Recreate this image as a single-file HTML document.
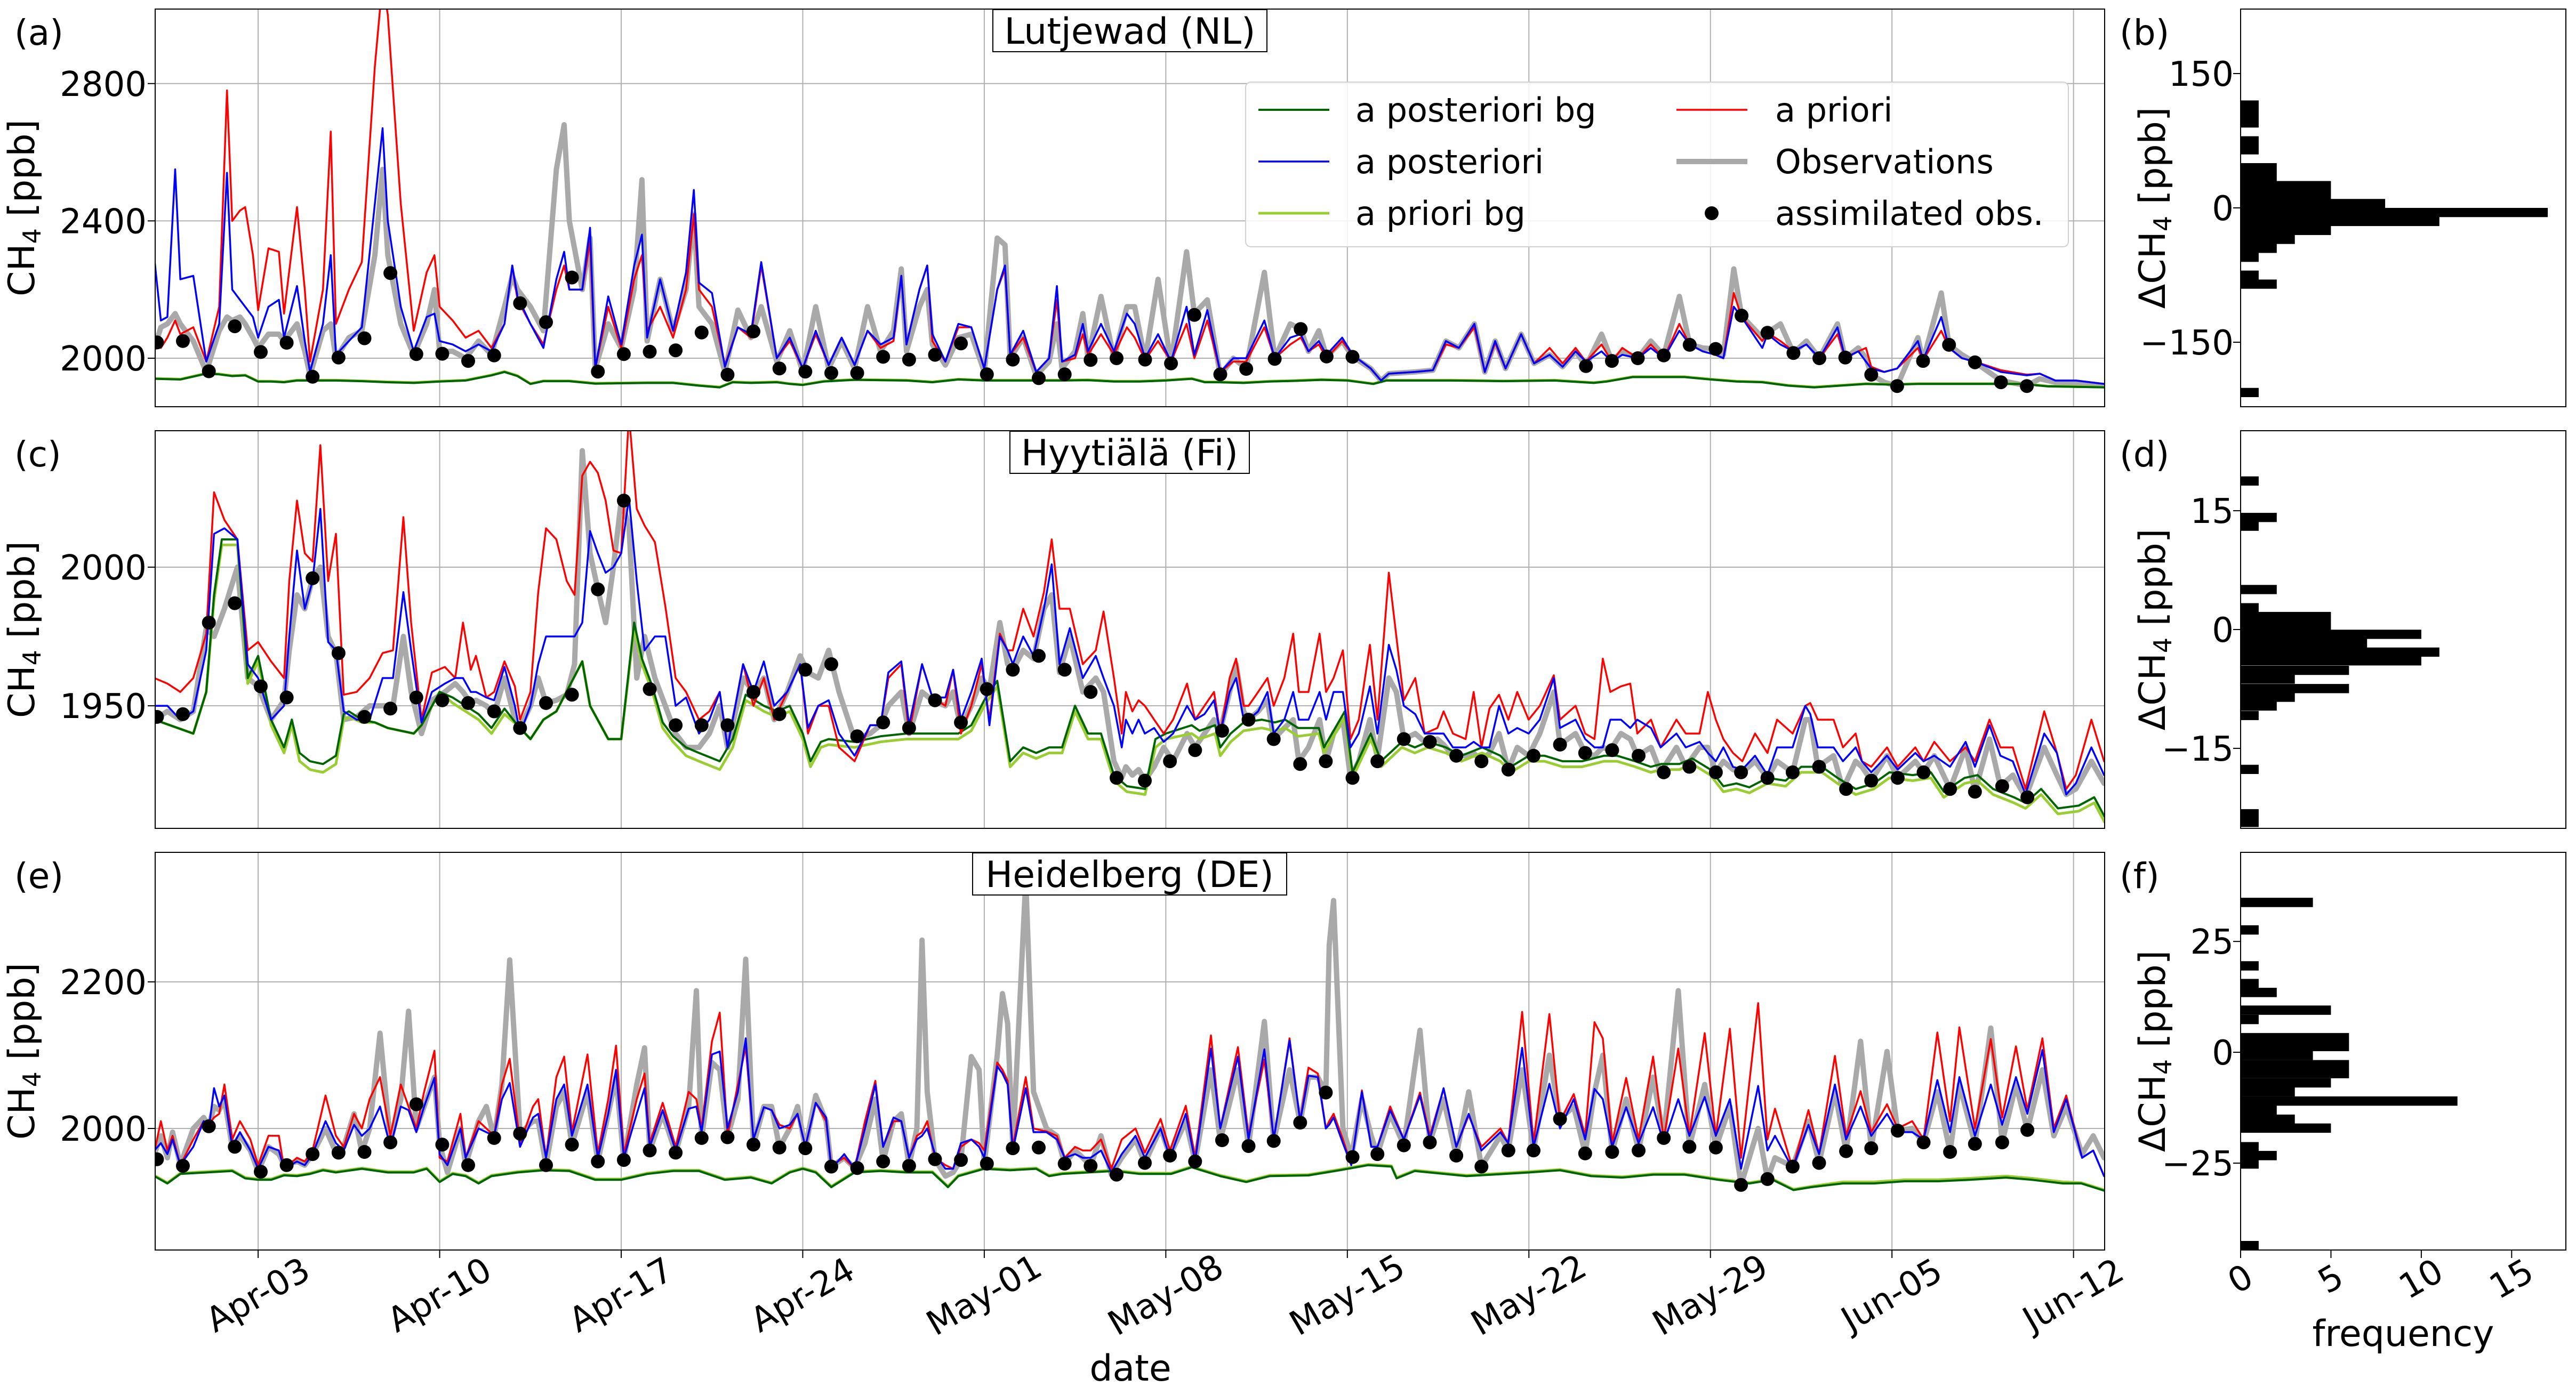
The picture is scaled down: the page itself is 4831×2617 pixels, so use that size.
<!DOCTYPE html>
<html><head><meta charset="utf-8"><title>CH4 time series and histograms</title>
<style>html,body{margin:0;padding:0;background:#fff;}svg{display:block;}</style>
</head><body>
<svg id="fig" xmlns="http://www.w3.org/2000/svg" width="4831" height="2617" viewBox="0 0 4831 2617" font-family="'DejaVu Sans','Liberation Sans',sans-serif">
<defs>
<clipPath id="clipA"><rect x="291" y="17" width="3656" height="746"/></clipPath>
<clipPath id="clipC"><rect x="291" y="808" width="3656" height="746"/></clipPath>
<clipPath id="clipE"><rect x="291" y="1599" width="3656" height="746"/></clipPath>
</defs>
<rect x="0" y="0" width="4831" height="2617" fill="#ffffff"/>
<g id="layer"></g>

<text x="27" y="84" font-size="66">(a)</text>
<text x="27" y="875" font-size="66">(c)</text>
<text x="27" y="1666" font-size="66">(e)</text>
<text x="3975" y="84" font-size="66">(b)</text>
<text x="3975" y="875" font-size="66">(d)</text>
<text x="3975" y="1666" font-size="66">(f)</text>

<text transform="translate(64,390) rotate(-90)" text-anchor="middle" font-size="68">CH<tspan font-size="46" dy="12">4</tspan><tspan dy="-12"> [ppb]</tspan></text>
<text transform="translate(64,1181) rotate(-90)" text-anchor="middle" font-size="68">CH<tspan font-size="46" dy="12">4</tspan><tspan dy="-12"> [ppb]</tspan></text>
<text transform="translate(64,1972) rotate(-90)" text-anchor="middle" font-size="68">CH<tspan font-size="46" dy="12">4</tspan><tspan dy="-12"> [ppb]</tspan></text>
<text transform="translate(4060,390) rotate(-90)" text-anchor="middle" font-size="68">ΔCH<tspan font-size="46" dy="12">4</tspan><tspan dy="-12"> [ppb]</tspan></text>
<text transform="translate(4060,1181) rotate(-90)" text-anchor="middle" font-size="68">ΔCH<tspan font-size="46" dy="12">4</tspan><tspan dy="-12"> [ppb]</tspan></text>
<text transform="translate(4060,1972) rotate(-90)" text-anchor="middle" font-size="68">ΔCH<tspan font-size="46" dy="12">4</tspan><tspan dy="-12"> [ppb]</tspan></text>

<text x="2120" y="2590" text-anchor="middle" font-size="68">date</text>
<text x="4507" y="2525" text-anchor="middle" font-size="68">frequency</text>
</svg>
<script>
const NS = 'http://www.w3.org/2000/svg';
// ---------- Panel (a) Lutjewad ----------
const tA = [0,0.25,0.5,0.8,1.0,1.5,2.0,2.5,2.8,3.0,3.3,3.5,3.8,4.0,4.4,4.8,5.0,5.5,5.8,6.0,6.5,6.8,7.0,7.5,8.0,8.5,8.8,9.0,9.5,10.0,10.5,10.8,11.0,11.5,12.0,12.5,13.0,13.5,13.8,14.0,14.5,15.0,15.5,15.8,16.0,16.5,16.8,17.0,17.5,18.0,18.5,18.8,19.0,19.5,20.0,20.5,20.8,21.0,21.5,22.0,22.5,23.0,23.4,24.0,24.5,25.0,25.5,26.0,26.5,27.0,27.5,28.0,28.5,28.8,29.0,29.5,29.8,30.0,30.5,31.0,31.5,32.0,32.5,32.8,33.0,33.5,34.0,34.5,34.8,35.0,35.5,35.8,36.0,36.5,37.0,37.5,37.8,38.2,38.7,39.2,39.8,40.1,40.6,41.1,41.6,42.1,42.8,43.2,43.8,44.2,44.5,44.9,45.2,45.8,46.2,46.9,47.3,47.6,48.6,49.3,49.8,50.3,50.9,51.3,51.7,52.1,52.7,53.2,53.8,54.3,54.8,55.2,55.8,56.2,56.6,57.2,57.7,58.2,58.8,59.2,59.7,60.2,60.5,60.9,61.2,62.0,62.2,62.7,63.2,63.7,64.2,64.9,65.2,65.7,66.0,66.2,66.7,67.2,68.0,68.2,68.9,69.2,69.7,70.2,71.2,72.2,72.7,73.3,74.1,75.2];
const priorA = [2040,2030,2060,2110,2070,2090,1990,2150,2780,2400, 2430,2440,2300,2140,2320,2310,2130,2440,2200,1990, 2200,2660,2100,2200,2280,2850,3100,3000,2450,2080, 2250,2300,2150,2110,2060,2080,2030,2100,2270,2170, 2100,2040,2200,2270,2200,2200,2340,1970,2150,2030, 2230,2300,2080,2150,2060,2200,2420,2200,2150,1980, 2090,2060,2270,2000,2050,1970,2070,1980,2060,1980, 2080,2030,2050,2240,2040,2200,2270,2050,1990,2090, 2090,1970,2200,2260,2010,2060,1960,2000,2170,1990, 2000,2070,2010,2070,2010,2090,2060,1995,2050,1990, 2100,2000,2110,1960,1990,1990,2090,2000,2040,2060, 2020,2040,2000,2050,2010,1970,1935,1955,1960,1965, 2040,2030,2090,1960,2045,1970,2070,1985,2030,1985, 2030,1990,2040,1990,2030,2000,2040,2000,2100,2040, 2020,2010,2000,2190,2120,2050,2074,2050,2020,2040, 2000,2070,2002,2020,2030,1975,1960,1970,2030,1995, 2080,2030,2000,1990,1965,1952,1955,1935,1935,1925];
const postA = [2290,2110,2120,2550,2230,2240,1990,2100,2540,2200, 2170,2150,2120,2060,2150,2170,2060,2210,2050,1960, 2100,2300,2010,2050,2090,2450,2670,2400,2150,2020, 2120,2130,2050,2040,2020,2040,2020,2100,2270,2180, 2100,2030,2230,2310,2200,2200,2380,1970,2180,2040, 2270,2360,2060,2230,2080,2250,2490,2220,2190,1975, 2090,2070,2280,2000,2060,1970,2080,1980,2060,1980, 2080,2040,2060,2240,2040,2200,2270,2070,1990,2100, 2090,1970,2200,2270,2010,2080,1960,2000,2210,1990, 2010,2100,2020,2100,2020,2130,2100,2000,2070,1990, 2150,2010,2140,1960,2000,2000,2110,2000,2060,2070, 2020,2050,2010,2060,2010,1970,1935,1955,1960,1965, 2050,2030,2100,1960,2050,1970,2070,1985,2010,1975, 2020,1990,2020,1990,2010,2000,2030,2000,2080,2040, 2020,2010,2000,2150,2120,2030,2070,2040,2020,2040, 2000,2090,2000,2020,1990,1970,1960,1970,2050,1995, 2120,2030,2000,1990,1960,1950,1955,1935,1935,1925];
const obsA = [2030,2090,2100,2130,2100,2050,1960,2080,2120,2110, 2120,2100,2060,2030,2070,2070,2050,2100,2020,1950, 2080,2100,2000,2060,2080,2300,2550,2300,2100,2010, 2100,2200,2020,2020,2000,2050,2010,2150,2240,2200, 2150,2080,2550,2680,2400,2200,2350,1970,2100,2030, 2200,2520,2050,2230,2080,2200,2420,2150,2100,1960, 2140,2060,2150,1990,2080,1960,2150,1970,2050,1970, 2150,2020,2080,2260,2020,2150,2200,2040,1980,2060, 2070,1960,2350,2330,2000,2060,1950,1990,2100,1970, 2020,2130,2000,2180,2000,2150,2150,1995,2230,1985, 2310,2130,2170,1950,2000,1970,2250,2000,2100,2085, 2020,2080,2005,2050,2005,1970,1935,1955,1960,1965, 2050,2030,2100,1960,2050,1970,2070,1985,2010,1975, 2020,1977,2070,1992,2020,2000,2050,2008,2180,2040, 2030,2027,2010,2260,2124,2060,2074,2100,2015,2050, 2000,2100,2000,2030,2000,1952,1930,1919,2060,1992, 2190,2039,2010,1988,1935,1920,1940,1930,1928,1920];
const bgtA = [0,1,2,2.5,3,3.5,4,4.5,5,5.5,6,7,8,9,10,11,12,13,13.5,14,14.5,15,16,17,18,19,20,21,21.8,22.3,23,24,24.5,25,25.8,26.5,27,28,29,30,31,32,33,34,35,36,37,38,39,40,40.5,41,42,43,44,45,46,47,47.5,48,50,52,54,55.5,56,57,59,60,61,62,63,64,65,66,67,68,70,72,73,75.2];
const bgA = [1940,1938,1955,1953,1948,1950,1932,1932,1930,1935,1935,1935,1933,1930,1928,1932,1935,1950,1960,1948,1925,1933,1933,1926,1927,1928,1928,1920,1915,1930,1928,1930,1925,1922,1932,1935,1937,1936,1935,1930,1938,1935,1935,1935,1935,1936,1932,1932,1935,1940,1930,1930,1928,1932,1934,1937,1935,1925,1935,1935,1935,1933,1935,1928,1932,1945,1945,1938,1932,1930,1920,1915,1920,1925,1923,1925,1925,1925,1918,1915];
const bgpA = [1941,1939,1956,1954,1949,1951,1933,1933,1931,1936,1936,1936,1934,1931,1929,1933,1936,1951,1961,1949,1926,1934,1934,1927,1928,1929,1929,1921,1916,1931,1929,1931,1926,1923,1933,1936,1938,1937,1936,1931,1939,1936,1936,1936,1936,1937,1933,1933,1936,1941,1931,1931,1929,1933,1935,1938,1936,1926,1936,1936,1936,1934,1936,1929,1933,1946,1946,1939,1933,1931,1921,1916,1921,1926,1924,1926,1926,1926,1919,1916];
const dotTA = [0.1,1.1,2.1,3.1,4.1,5.1,6.1,7.1,8.1,9.1,10.1,11.1,12.1,13.1,14.1,15.1,16.1,17.1,18.1,19.1,20.1,21.1,22.1,23.1,24.1,25.1,26.1,27.1,28.1,29.1,30.1,31.1,32.1,33.1,34.1,35.1,36.1,37.1,38.2,39.2,40.1,41.1,42.1,43.2,44.2,45.2,46.2,55.2,56.2,57.2,58.2,59.2,60.2,61.2,62.2,63.2,64.2,65.2,66.2,67.2,68.2,69.2,70.2,71.2,72.2];
const dotVA = [2046,2050,1962,2093,2018,2045,1946,2002,2058,2248,2012,2013,1992,2008,2160,2105,2235,1961,2012,2019,2023,2075,1952,2078,1970,1961,1957,1957,2004,1996,2010,2043,1953,1996,1942,1953,1995,2000,1996,1985,2126,1953,1969,1998,2085,2005,2004,1977,1992,2000,2008,2039,2027,2124,2074,2015,2000,2002,1952,1919,1992,2039,1988,1930,1919];

// ---------- Panel (c) Hyytiala ----------
const tC = [0,0.5,1.0,1.5,2.0,2.3,2.7,3.2,3.6,4.0, 4.5,5.0,5.2,5.5,5.8,6.1,6.4,6.7,7.0,7.3, 7.8,8.3,8.8,9.2,9.6,9.9,10.3,10.7,11.2,11.6, 11.9,12.2,12.4,12.8,13.1,13.5,13.9,14.1,14.5,14.8, 15.1,15.5,15.9,16.2,16.5,16.8,17.1,17.4,17.7,18.0, 18.3,18.6,18.9,19.3,19.7,20.1,20.5,21.0,21.4,21.8, 22.1,22.7,23.1,23.5,23.9,24.4,24.9,25.2,25.6,26.0, 26.4,27.0,27.6,28.0,28.3,28.8,29.1,29.6,30.0,30.5, 30.8,31.1,31.5,31.9,32.2,32.6,32.9,33.1,33.5,33.9, 34.3,34.6,34.9,35.3,35.8,36.3,36.6,37.0,37.3,37.46, 37.71,37.95,38.19,38.55,38.92,39.28,39.82,40.13,40.49,40.86, 41.1,41.46,41.71,42.0,42.19,42.56,42.92,43.16,43.57,43.91, 44.13,44.5,44.93,45.18,45.47,45.83,46.12,46.44,46.87,47.16, 47.6,47.89,48.18,48.62,48.98,49.47,49.71,50.07,50.56,50.87, 51.17,51.48,51.85,52.21,52.55,52.99,53.42,53.96,54.2,54.8, 55.17,55.53,55.85,56.14,56.55,56.91,57.18,57.71,58.08,58.69, 59.05,59.58,59.9,60.21,60.5,60.87,61.23,61.72,62.2,62.57, 63.17,63.66,63.85,64.14,64.75,65.11,65.6,65.84,66.2,66.81, 67.22,67.9,68.22,68.63,69.24,69.84,70.2,70.76,71.18,71.66, 72.15,72.87,73.36,73.72,74.09,74.69,75.18];
const priorC = [1960,1958,1955,1960,1976,2027,2017,2010,1970,1973, 1966,1960,1995,2024,2005,2002,2044,1995,2012,1954, 1955,1960,1969,1970,2018,1980,1945,1962,1964,1960, 1980,1963,1968,1953,1955,1966,1957,1945,1955,1991, 2014,2010,1995,1990,2033,2038,2034,2024,2006,2005, 2055,2021,2015,2009,1986,1960,1955,1945,1948,1955, 1935,1965,1950,1960,1945,1955,1965,1940,1950,1950, 1935,1930,1943,1943,1960,1965,1940,1965,1953,1950, 1963,1940,1950,1965,1945,1976,1970,1970,1985,1975, 1991,2010,1985,1985,1965,1970,1984,1960,1940,1955, 1948,1952,1950,1945,1940,1945,1958,1945,1950,1955, 1940,1960,1967,1950,1950,1955,1960,1950,1960,1976, 1955,1955,1976,1955,1960,1970,1938,1945,1972,1945, 1998,1975,1952,1960,1940,1942,1948,1940,1938,1955, 1935,1949,1954,1945,1955,1945,1950,1961,1945,1950, 1940,1938,1967,1955,1957,1958,1940,1945,1935,1945, 1940,1940,1955,1945,1938,1933,1930,1940,1933,1945, 1940,1950,1951,1945,1945,1935,1940,1930,1928,1935, 1928,1935,1930,1937,1930,1935,1930,1945,1935,1935, 1920,1948,1933,1920,1925,1945,1930];
const postC = [1950,1950,1945,1948,1970,2012,2014,2010,1965,1960, 1945,1950,1975,2006,1985,1995,2021,1973,1970,1948, 1945,1945,1960,1960,1991,1970,1944,1955,1958,1960, 1960,1955,1955,1953,1952,1964,1950,1940,1950,1965, 1975,1975,1975,1975,1980,2013,2005,1998,2000,2005, 2025,1995,1970,1975,1975,1950,1953,1940,1945,1955, 1935,1965,1955,1966,1950,1955,1965,1942,1950,1952, 1940,1932,1943,1943,1962,1966,1943,1965,1953,1953, 1963,1945,1955,1967,1943,1975,1970,1965,1975,1968, 1985,2001,1965,1978,1960,1968,1960,1950,1935,1945, 1940,1945,1940,1942,1937,1940,1950,1945,1947,1952, 1940,1955,1960,1945,1945,1948,1955,1940,1945,1955, 1945,1945,1955,1945,1955,1955,1935,1940,1957,1940, 1972,1963,1950,1947,1940,1940,1940,1935,1935,1937, 1935,1935,1950,1940,1942,1940,1945,1960,1942,1945, 1938,1935,1935,1945,1945,1942,1945,1942,1935,1940, 1935,1937,1933,1930,1935,1928,1927,1932,1925,1935, 1935,1950,1947,1935,1935,1930,1935,1930,1926,1932, 1927,1933,1930,1932,1928,1937,1928,1943,1932,1930, 1918,1940,1933,1918,1922,1935,1925];
const obsC = [1945,1948,1945,1948,1978,1975,1985,2000,1960,1957, 1945,1952,1970,1990,1985,1996,2000,1975,1969,1945, 1946,1950,1950,1950,1975,1955,1940,1952,1955,1958, 1955,1951,1952,1950,1947,1960,1945,1942,1950,1960, 1951,1952,1954,1965,2042,2005,1992,1980,2000,2024, 2015,1960,1975,1960,1950,1940,1935,1935,1940,1950, 1935,1960,1955,1960,1945,1955,1968,1962,1960,1970, 1955,1938,1940,1943,1950,1955,1940,1955,1952,1950, 1955,1942,1950,1960,1956,1980,1965,1963,1970,1967, 1985,1990,1962,1975,1955,1960,1955,1930,1924,1928, 1925,1927,1923,1928,1935,1930,1940,1935,1940,1945, 1941,1955,1965,1948,1945,1948,1952,1938,1942,1945, 1930,1935,1945,1930,1940,1945,1924,1930,1945,1931, 1960,1955,1938,1940,1937,1938,1936,1932,1932,1933, 1930,1933,1940,1927,1935,1932,1940,1955,1936,1940, 1933,1932,1935,1934,1940,1938,1932,1935,1926,1935, 1928,1935,1935,1926,1930,1927,1926,1930,1924,1930, 1926,1945,1945,1928,1932,1920,1930,1928,1923,1932, 1924,1930,1926,1932,1920,1935,1919,1938,1921,1925, 1917,1935,1925,1918,1920,1930,1922];
const bgtC = [0,1.5,2,2.3,2.6,3.2,3.6,4,4.5,5,5.3,5.6,6,6.5,7,7.3,7.5,8,8.5,9,10,10.3,11,11.5,12,12.5,13,13.5,14,14.5,15,15.5,16,16.5,16.8,17.5,18,18.5,18.8,19.2,19.6,20,20.5,21,21.8,22.3,22.8,23.5,24,24.5,25,25.3,25.7,26,27,28,29,30,31,31.5,32,32.5,33,33.5,34,34.5,35,35.5,36,36.5,37,37.5,38.2,38.6,39,40,40.3,40.9,41.1,41.5,42,42.7,43.2,43.6,44.1,44.9,45.1,45.9,46.2,46.9,47.3,48.1,48.6,49.1,49.8,50.4,51.2,51.9,52.3,53,53.6,54.3,55.05,55.9,56.4,57.1,57.7,58.1,58.8,59.3,60,60.5,61,61.5,62.2,62.9,63.5,64.3,64.9,65.6,66.3,66.9,67.8,68.5,69,69.8,70.3,70.9,71.7,72.15,72.75,73.4,74.2,74.8,75.2];
const bgC = [1945,1940,1955,1990,2010,2010,1960,1968,1945,1935,1945,1933,1930,1929,1932,1947,1948,1945,1944,1942,1940,1943,1955,1953,1950,1947,1942,1949,1943,1938,1945,1948,1957,1966,1950,1938,1938,1980,1967,1957,1944,1939,1935,1933,1930,1938,1954,1950,1948,1950,1940,1930,1937,1938,1937,1939,1940,1940,1940,1943,1952,1959,1930,1935,1933,1935,1935,1950,1940,1940,1925,1921,1920,1938,1940,1943,1941,1943,1935,1940,1944,1945,1944,1945,1942,1942,1935,1948,1926,1940,1930,1937,1935,1937,1935,1932,1935,1932,1928,1932,1932,1930,1930,1932,1932,1930,1928,1929,1929,1931,1927,1921,1922,1920.6,1924,1923,1928,1928,1924,1920,1922,1926,1925,1926,1919,1924,1925,1920,1917,1915,1920,1913,1914,1917,1910];
const bgpC = [1945,1940,1955,1988,2008,2008,1958,1966,1943,1933,1943,1930,1927,1926,1929,1945,1946,1944,1944,1942,1940,1943,1955,1951,1948,1945,1940,1947,1943,1938,1945,1948,1957,1966,1950,1938,1938,1978,1965,1955,1942,1937,1932,1930,1927,1935,1952,1948,1946,1948,1938,1928,1935,1936,1935,1937,1938,1938,1938,1941,1950,1957,1928,1933,1931,1933,1933,1948,1938,1938,1923,1919,1918,1935,1938,1940,1938,1940,1932,1937,1941,1942,1941,1942,1939,1940,1933,1946,1924,1938,1928,1935,1933,1935,1933,1930,1933,1930,1926,1930,1930,1928,1928,1930,1930,1928,1926,1927,1927,1929,1925,1919,1920,1918.6,1922,1921,1926,1926,1922,1918,1920,1924,1923,1924,1917,1922,1923,1918,1915,1913,1918,1911,1912,1915,1908];
const dotTC = [0.1,1.1,2.1,3.1,4.1,5.1,6.1,7.1,8.1,9.1,10.1,11.1,12.1,13.1,14.1,15.1,16.1,17.1,18.1,19.1,20.1,21.1,22.1,23.1,24.1,25.1,26.1,27.1,28.1,29.1,30.1,31.1,32.1,33.1,34.1,35.1,36.1,37.1,38.19,39.16,40.13,41.17,42.19,43.16,44.18,45.17,46.2,47.16,48.18,49.18,50.2,51.17,52.21,53.18,54.2,55.17,56.21,57.23,58.2,59.19,60.21,61.18,62.2,63.17,64.19,65.23,66.2,67.22,68.22,69.24,70.2,71.25,72.22];
const dotVC = [1946,1947,1980,1987,1957,1953,1996,1969,1946,1949,1953,1952,1951,1948,1942,1951,1954,1992,2024,1956,1943,1943,1943,1955,1947,1963,1965,1939,1944,1942,1952,1944,1956,1963,1968,1963,1955,1924,1923,1930,1934,1941,1945,1938,1929,1930,1924,1930,1938,1937,1932,1930,1927,1932,1936,1933,1934,1932,1926,1928,1926,1926,1924,1926,1928,1920,1923,1924,1926,1920,1919,1921,1917];

// ---------- Panel (e) Heidelberg ----------
const tE = [0,0.25,0.5,0.7,1.0,1.5,1.9,2.1,2.3,2.5, 2.7,3.0,3.3,3.7,4.0,4.4,4.8,5.0,5.5,5.8, 6.1,6.6,7.0,7.3,7.7,8.0,8.3,8.7,9.1,9.5, 9.8,10.1,10.4,10.8,11.0,11.3,11.8,12.0,12.5,12.8, 13.1,13.4,13.7,14.1,14.6,14.8,15.1,15.5,15.8,16.1, 16.7,17.1,17.5,17.8,18.1,18.6,18.9,19.1,19.6,20.1, 20.6,20.9,21.1,21.5,21.8,22.1,22.5,22.8,23.1,23.5, 23.8,24.1,24.5,24.8,25.1,25.5,25.9,26.1,26.6,27.0, 27.4,27.8,28.1,28.5,28.8,29.1,29.4,29.6,29.8,30.1, 30.5,30.8,31.1,31.5,31.8,32.0,32.5,32.7,32.9,33.1, 33.6,33.9,34.4,34.8,35.1,35.5,35.8,36.1,36.5,36.9, 37.3,37.83,38.19,38.8,39.16,39.77,40.13,40.74,41.1,41.78, 42.19,42.8,43.16,43.77,44.18,44.5,44.86,45.17,45.3,45.47, 45.83,46.15,46.56,46.92,47.16,47.65,48.18,48.8,49.18,49.71, 50.2,50.68,51.17,51.9,52.2,52.74,53.18,53.79,54.2,54.73, 55.17,55.53,55.85,56.21,56.75,57.23,57.79,58.2,58.76,59.19, 59.78,60.21,60.75,61.18,61.84,62.2,62.49,63.17,63.78,64.19, 64.8,65.23,65.79,66.2,66.81,67.22,67.78,68.22,68.75,69.24, 69.6,70.2,70.81,71.25,71.78,72.22,72.8,73.24,73.72,74.33, 74.76,75.18];
const priorE = [1968,2010,1970,1990,1950,1985,2010,2005,2015,2020, 2060,1985,2010,1985,1950,1990,1990,1945,1960,1955, 1970,2045,1990,1975,2020,2000,2040,2070,1990,2060, 2030,2000,2050,2106,1960,1955,2020,1960,2010,2000, 1990,2060,2095,1980,2030,2040,1960,2070,2098,1995, 2101,1965,2040,2113,1965,2040,2075,1980,2035,1975, 2050,2040,2000,2119,2158,1990,2060,2112,1985,2029, 2025,2005,2000,2020,1975,2035,2010,1950,1960,1945, 2010,2065,1975,2010,2010,1960,1990,1995,2010,1960, 1950,1945,1975,1985,1980,1970,2090,2080,2065,1975, 2070,2000,1996,1990,1960,1975,1970,1970,1985,1945, 1985,2000,1967,2013,1970,2031,1960,2127,2000,2111, 1990,2094,1985,2123,2010,2083,2075,2000,2010,2020, 1985,1950,2052,1975,1975,2030,1985,2049,1990,2054, 1975,2018,1975,2000,1980,2159,1980,2156,2010,2047, 1990,2145,2123,1980,2069,1985,2098,1985,2109,1990, 2130,1990,2136,1960,2171,1985,2027,1945,2025,1965, 2099,1990,2051,1995,2033,2000,2010,1985,2131,2010, 2138,2000,2122,2015,2112,2025,2123,2000,2045,1960, 1970,1935];
const postE = [1970,1980,1965,1985,1950,1975,2010,2000,2055,2030, 2045,1975,1995,1970,1945,1975,1970,1945,1955,1950, 1965,2010,1980,1970,2005,1990,2000,2030,1975,2030, 2025,1995,2030,2069,1965,1950,2000,1960,2000,1995, 1990,2040,2062,1975,2015,2020,1960,2040,2060,1990, 2060,1960,2020,2080,1960,2020,2055,1975,2025,1970, 2027,2030,1995,2101,2105,2000,2050,2123,1985,2029, 2025,2000,2005,2020,1975,2035,2015,1945,1965,1945, 2000,2060,1975,2015,2010,1960,1985,1990,2000,1965, 1945,1945,1980,1985,1975,1960,2085,2075,2060,1970, 2055,1995,1995,1985,1960,1965,1960,1960,1970,1940, 1965,1990,1960,2000,1960,2020,1955,2109,2000,2098, 1985,2108,1985,2120,2010,2072,2070,2000,2005,2015, 1980,1950,2050,1975,1975,2025,1985,2045,1985,2055, 1975,2020,1970,1995,1980,2110,1975,2061,2000,2040, 1985,2054,2040,1975,2029,1980,2029,1980,2040,1990, 2043,1990,2040,1945,2058,1970,1990,1945,2005,1965, 2060,1985,2030,1990,2020,1995,1995,1985,2066,1995, 2070,1990,2060,2005,2070,2020,2107,1995,2040,1960, 1970,1935];
const obsE = [1965,1990,1960,1995,1950,2000,2015,2003,2030,2025, 2040,1975,1990,1970,1941,1975,1965,1950,1955,1950, 1965,2000,1967,1975,2020,1968,2000,2130,1981,2040, 2160,2000,2030,2070,1978,1940,2000,1950,2010,2030, 1987,2060,2230,1993,2010,2010,1950,2030,2050,1978, 2050,1955,2020,2070,1957,2060,2110,1970,2020,1967, 2030,2188,1987,2090,2080,1988,2040,2231,1978,2030, 2030,1974,2000,2030,1973,2045,2010,1948,1960,1946, 1980,2040,1955,2010,2020,1949,2000,2257,2050,1958, 1935,1940,1957,2098,2080,1952,2100,2184,2143,1973, 2340,2050,2000,1990,1952,1970,1960,1949,1990,1937, 1960,1985,1953,2000,1963,2010,1955,2080,1984,2080, 1976,2146,1983,2080,2008,2070,2070,2049,2250,2311, 2000,1961,2040,1990,1965,2020,1977,2134,1981,2040, 1963,2050,1948,1990,1970,2080,1970,2100,2013,2030, 1966,2050,2100,1968,2040,1970,2070,1987,2188,1975, 2060,1974,2030,1923,2000,1931,1960,1948,2010,1953, 2050,1969,2119,1973,2105,1997,2000,1981,2050,1968, 2060,1979,2137,1981,2060,1998,2080,1990,2030,1965, 1990,1960];
const bgtE = [0,0.5,1,2,3,3.5,4,4.5,5,5.5,6,6.5,7,8,9,10,10.5,11,11.5,12,12.5,13,14,15,16,17,18,19,20,21,22,23,23.8,24.5,25,25.5,26.1,27,28,29,30,30.6,31,32,33,34,34.5,35,36,37,38,39.2,40,41.1,42.1,43,44.5,45.7,46.8,47.7,47.9,48.6,50.6,53,54.2,55.4,56.6,57.8,59,60.3,61.5,62.4,63.2,63.9,65.1,66.3,67.5,68.8,70,71.4,72.4,73.6,74.3,75.2];
const bgE = [1935,1925,1938,1940,1942,1932,1930,1930,1936,1935,1938,1943,1940,1945,1940,1940,1945,1927,1938,1935,1925,1935,1940,1943,1942,1930,1930,1938,1942,1942,1930,1933,1925,1940,1945,1940,1920,1940,1942,1940,1940,1920,1935,1945,1943,1945,1935,1938,1940,1942,1938,1938,1947,1935,1927,1935,1936,1943,1950,1948,1932,1942,1935,1940,1943,1935,1933,1937,1937,1930,1925,1930,1916,1920,1925,1925,1928,1928,1930,1933,1930,1925,1925,1915];
const bgpE = [1936,1926,1939,1941,1943,1933,1931,1931,1937,1936,1939,1944,1941,1946,1941,1941,1946,1928,1939,1936,1926,1936,1941,1944,1943,1931,1931,1939,1943,1943,1931,1934,1926,1941,1946,1941,1921,1941,1943,1941,1941,1921,1936,1946,1944,1946,1936,1939,1941,1943,1939,1939,1948,1936,1928,1936,1937,1944,1951,1949,1933,1943,1936,1941,1944,1936,1934,1938,1938,1931,1926,1931,1917,1921,1927,1927,1930,1930,1932,1935,1932,1927,1926,1916];
const dotTE = [0.1,1.1,2.1,3.1,4.1,5.1,6.1,7.1,8.1,9.1,10.1,11.1,12.1,13.1,14.1,15.1,16.1,17.1,18.1,19.1,20.1,21.1,22.1,23.1,24.1,25.1,26.1,27.1,28.1,29.1,30.1,31.1,32.1,33.1,34.1,35.1,36.1,37.1,38.19,39.16,40.13,41.17,42.19,43.16,44.18,45.17,46.2,47.16,48.18,49.18,50.2,51.17,52.21,53.18,54.2,55.17,56.21,57.23,58.2,59.19,60.21,61.18,62.2,63.17,64.19,65.23,66.2,67.22,68.22,69.24,70.2,71.25,72.22];
const dotVE = [1958,1949,2003,1975,1941,1950,1965,1967,1968,1981,2033,1978,1950,1987,1993,1950,1978,1955,1957,1970,1967,1987,1988,1978,1974,1973,1948,1946,1955,1949,1958,1957,1952,1973,1974,1952,1949,1937,1953,1963,1955,1984,1976,1983,2008,2049,1961,1965,1977,1981,1963,1948,1970,1970,2013,1966,1968,1970,1987,1975,1974,1923,1931,1948,1953,1969,1973,1997,1981,1968,1979,1981,1998];

// ---------- Histograms ----------
const binLowB = [110,100,90,70,60,40,30,20,10,0,-10,-20,-30,-40,-50,-60,-80,-90,-211];
const countB  = [1,1,1,1,1,2,2,5,5,8,17,11,5,3,2,1,1,2,1];
const binLowD = [18.2,13.6,12.5,4.5,2.2,1.1,0,-1.15,-2.3,-3.4,-4.5,-5.7,-6.8,-8.0,-9.1,-10.2,-11.4,-18.2,-23.8,-24.9];
const countD  = [1,2,1,2,1,5,5,10,7,11,10,6,3,6,3,2,1,1,1,1];
const binLowF = [32.8,26.6,18.5,14.5,12.5,8.5,6.4,2.3,0.3,-1.7,-3.8,-5.8,-7.9,-9.9,-12,-14,-16.1,-18.1,-22.3,-24.3,-26.2,-44.6];
const countF  = [4,1,1,1,2,5,1,6,6,4,6,6,5,3,12,2,3,5,1,2,1,1];
const binWB = 10, binWD = 1.13, binWF = 2.05;

// ---------- Ticks ----------
const dateTicks = [4,11,18,25,32,39,46,53,60,67,74];
const dateLabels = ['Apr-03','Apr-10','Apr-17','Apr-24','May-01','May-08','May-15','May-22','May-29','Jun-05','Jun-12'];
const yTicksA = [2000,2400,2800];
const yTicksC = [1950,2000];
const yTicksE = [2000,2200];
const yTicksB = [-150,0,150];
const yTicksD = [-15,0,15];
const yTicksF = [-25,0,25];
const freqTicks = [0,5,10,15];

// ---------- Layout ----------
const X0 = 291, X1 = 3947, TMIN = 0.03, TMAX = 75.2;
function xT(t){ return X0 + (t - TMIN) / (TMAX - TMIN) * (X1 - X0); }
function mkY(y0, y1, vmin, vmax){ return function(v){ return y1 - (v - vmin) / (vmax - vmin) * (y1 - y0); }; }
const HX0 = 4202, HX1 = 4812, FMAX = 18.0;
function xF(c){ return HX0 + c / FMAX * (HX1 - HX0); }

const layer = document.getElementById('layer');
function el(tag){ return document.createElementNS(NS, tag); }
function fmt(v){ return v < 0 ? '\u2212' + Math.abs(v) : String(v); }

function drawMain(key, y0, y1, vmin, vmax, yTicks, t, pr, po, ob, bgt, bg, bgp, dT, dV, title, tbx0, tbx1, showX){
  const Y = mkY(y0, y1, vmin, vmax);
  const g = el('g');
  
  
  layer.appendChild(g);
  // grid
  for (let i = 0; i < dateTicks.length; i++){
    const l = el('line');
    l.setAttribute('x1', xT(dateTicks[i])); l.setAttribute('x2', xT(dateTicks[i]));
    l.setAttribute('y1', y0); l.setAttribute('y2', y1);
    l.setAttribute('stroke', '#b0b0b0'); l.setAttribute('stroke-width', '2');
    
    
    g.appendChild(l);
  }
  for (let i = 0; i < yTicks.length; i++){
    const y = Y(yTicks[i]);
    const l = el('line');
    l.setAttribute('x1', X0); l.setAttribute('x2', X1); l.setAttribute('y1', y); l.setAttribute('y2', y);
    l.setAttribute('stroke', '#b0b0b0'); l.setAttribute('stroke-width', '2');
    
    
    g.appendChild(l);
    const tk = el('line');
    tk.setAttribute('x1', X0 - 14); tk.setAttribute('x2', X0); tk.setAttribute('y1', y); tk.setAttribute('y2', y);
    tk.setAttribute('stroke', '#000'); tk.setAttribute('stroke-width', '2');
    
    
    g.appendChild(tk);
    const tx = el('text');
    tx.setAttribute('x', 275); tx.setAttribute('y', y + 23);
    tx.setAttribute('text-anchor', 'end'); tx.setAttribute('font-size', '64');
    tx.textContent = fmt(yTicks[i]);
    
    
    g.appendChild(tx);
  }
  const cg = el('g');
  cg.setAttribute('clip-path', 'url(#clip' + key + ')');
  
  
  g.appendChild(cg);
  function poly(ts, vs, color, w, name){
    const n = Math.min(ts.length, vs.length); const pts = [];
    for (let i = 0; i < n; i++) pts.push(xT(ts[i]).toFixed(1) + ',' + Y(vs[i]).toFixed(1));
    const p = el('polyline');
    p.setAttribute('points', pts.join(' '));
    p.setAttribute('fill', 'none'); p.setAttribute('stroke', color); p.setAttribute('stroke-width', w);
    p.setAttribute('stroke-linejoin', 'round'); p.setAttribute('stroke-linecap', 'round');
    
    
    cg.appendChild(p);
  }
  poly(t, ob, '#a9a9a9', 10, 'observations-line');
  poly(bgt, bgp, '#9acd32', 5, 'a-priori-bg-line');
  poly(bgt, bg, '#006400', 4, 'a-posteriori-bg-line');
  poly(t, pr, '#ff0000', 3.5, 'a-priori-line');
  poly(t, po, '#0000ff', 3.5, 'a-posteriori-line');
  const n = Math.min(dT.length, dV.length);
  for (let i = 0; i < n; i++){
    const c = el('circle');
    c.setAttribute('cx', xT(dT[i]).toFixed(1)); c.setAttribute('cy', Y(dV[i]).toFixed(1));
    c.setAttribute('r', 13); c.setAttribute('fill', '#000');
    
    
    cg.appendChild(c);
  }
  const fr = el('rect');
  fr.setAttribute('x', X0); fr.setAttribute('y', y0); fr.setAttribute('width', X1 - X0); fr.setAttribute('height', y1 - y0);
  fr.setAttribute('fill', 'none'); fr.setAttribute('stroke', '#000'); fr.setAttribute('stroke-width', '2');
  
  
  g.appendChild(fr);
  // title box
  const tb = el('rect');
  tb.setAttribute('x', tbx0); tb.setAttribute('y', y0 + 1); tb.setAttribute('width', tbx1 - tbx0); tb.setAttribute('height', 79);
  tb.setAttribute('fill', '#fff'); tb.setAttribute('stroke', '#000'); tb.setAttribute('stroke-width', '2');
  
  
  g.appendChild(tb);
  const tt = el('text');
  tt.setAttribute('x', (tbx0 + tbx1) / 2); tt.setAttribute('y', y0 + 65);
  tt.setAttribute('text-anchor', 'middle'); tt.setAttribute('font-size', '68');
  tt.textContent = title;
  
  
  g.appendChild(tt);
  if (showX){
    for (let i = 0; i < dateTicks.length; i++){
      const x = xT(dateTicks[i]);
      const tk = el('line');
      tk.setAttribute('x1', x); tk.setAttribute('x2', x); tk.setAttribute('y1', y1); tk.setAttribute('y2', y1 + 15);
      tk.setAttribute('stroke', '#000'); tk.setAttribute('stroke-width', '2');
      
      
      g.appendChild(tk);
      const tx = el('text');
      tx.setAttribute('x', x); tx.setAttribute('y', 2430);
      tx.setAttribute('text-anchor', 'middle'); tx.setAttribute('dominant-baseline', 'central');
      tx.setAttribute('font-size', '64');
      tx.setAttribute('transform', 'rotate(-30 ' + x + ' 2430)');
      tx.textContent = dateLabels[i];
      
      
      g.appendChild(tx);
    }
  }
}

function drawHist(key, y0, y1, vmin, vmax, yTicks, lows, counts, bw, showX){
  const Y = mkY(y0, y1, vmin, vmax);
  const g = el('g');
  
  
  layer.appendChild(g);
  const n = Math.min(lows.length, counts.length);
  for (let i = 0; i < n; i++){
    const ya = Y(lows[i] + bw), yb = Y(lows[i]);
    const r = el('rect');
    r.setAttribute('x', HX0); r.setAttribute('y', ya.toFixed(1));
    r.setAttribute('width', (xF(counts[i]) - HX0).toFixed(1)); r.setAttribute('height', (yb - ya + 0.5).toFixed(1));
    r.setAttribute('fill', '#000');
    
    
    g.appendChild(r);
  }
  for (let i = 0; i < yTicks.length; i++){
    const y = Y(yTicks[i]);
    const tk = el('line');
    tk.setAttribute('x1', HX0 - 14); tk.setAttribute('x2', HX0); tk.setAttribute('y1', y); tk.setAttribute('y2', y);
    tk.setAttribute('stroke', '#000'); tk.setAttribute('stroke-width', '2');
    
    
    g.appendChild(tk);
    const tx = el('text');
    tx.setAttribute('x', 4189); tx.setAttribute('y', y + 23);
    tx.setAttribute('text-anchor', 'end'); tx.setAttribute('font-size', '64');
    tx.textContent = fmt(yTicks[i]);
    
    
    g.appendChild(tx);
  }
  const fr = el('rect');
  fr.setAttribute('x', HX0); fr.setAttribute('y', y0); fr.setAttribute('width', HX1 - HX0); fr.setAttribute('height', y1 - y0);
  fr.setAttribute('fill', 'none'); fr.setAttribute('stroke', '#000'); fr.setAttribute('stroke-width', '2');
  
  
  g.appendChild(fr);
  if (showX){
    for (let i = 0; i < freqTicks.length; i++){
      const x = xF(freqTicks[i]);
      const tk = el('line');
      tk.setAttribute('x1', x); tk.setAttribute('x2', x); tk.setAttribute('y1', y1); tk.setAttribute('y2', y1 + 15);
      tk.setAttribute('stroke', '#000'); tk.setAttribute('stroke-width', '2');
      
      
      g.appendChild(tk);
      const tx = el('text');
      tx.setAttribute('x', x); tx.setAttribute('y', 2400);
      tx.setAttribute('text-anchor', 'middle'); tx.setAttribute('dominant-baseline', 'central');
      tx.setAttribute('font-size', '64');
      tx.setAttribute('transform', 'rotate(-30 ' + x + ' 2400)');
      tx.textContent = String(freqTicks[i]);
      
      
      g.appendChild(tx);
    }
  }
}

drawMain('A', 17, 763, 1858.7, 3017, yTicksA, tA, priorA, postA, obsA, bgtA, bgA, bgpA, dotTA, dotVA, 'Lutjewad (NL)', 1862, 2376, false);
drawMain('C', 808, 1554, 1905.8, 2049.2, yTicksC, tC, priorC, postC, obsC, bgtC, bgC, bgpC, dotTC, dotVC, 'Hyytiälä (Fi)', 1894, 2343, false);
drawMain('E', 1599, 2345, 1834.2, 2376.7, yTicksE, tE, priorE, postE, obsE, bgtE, bgE, bgpE, dotTE, dotVE, 'Heidelberg (DE)', 1824, 2413, true);
drawHist('B', 17, 763, -222, 222, yTicksB, binLowB, countB, binWB, false);
drawHist('D', 808, 1554, -25.1, 25.1, yTicksD, binLowD, countD, binWD, false);
drawHist('F', 1599, 2345, -44.6, 45.1, yTicksF, binLowF, countF, binWF, true);

// ---------- Legend ----------
const lg = el('g');


layer.appendChild(lg);
const lb = el('rect');
lb.setAttribute('x', 2336); lb.setAttribute('y', 154); lb.setAttribute('width', 1543); lb.setAttribute('height', 309);
lb.setAttribute('rx', 10); lb.setAttribute('fill', '#fff'); lb.setAttribute('fill-opacity', '0.85');
lb.setAttribute('stroke', '#d0d0d0'); lb.setAttribute('stroke-width', '2');


lg.appendChild(lb);
const legLabels = ['a posteriori bg','a posteriori','a priori bg','a priori','Observations','assimilated obs.'];
const legColors = ['#006400','#0000ff','#9acd32','#ff0000','#a9a9a9','#000'];
const legWidths = [4,3.5,5,3.5,10,0];
for (let i = 0; i < legLabels.length; i++){
  const col = i < 3 ? 0 : 1, row = i % 3;
  const hx0 = col === 0 ? 2360 : 3144, tx0 = col === 0 ? 2542 : 3329;
  const y = 206 + row * 97;
  if (legWidths[i] > 0){
    const l = el('line');
    l.setAttribute('x1', hx0); l.setAttribute('x2', hx0 + 133); l.setAttribute('y1', y); l.setAttribute('y2', y);
    l.setAttribute('stroke', legColors[i]); l.setAttribute('stroke-width', legWidths[i]);
    
    
    lg.appendChild(l);
  } else {
    const c = el('circle');
    c.setAttribute('cx', hx0 + 66); c.setAttribute('cy', y); c.setAttribute('r', 13); c.setAttribute('fill', '#000');
    
    
    lg.appendChild(c);
  }
  const t = el('text');
  t.setAttribute('x', tx0); t.setAttribute('y', y + 22); t.setAttribute('font-size', '62');
  t.textContent = legLabels[i];
  
  
  lg.appendChild(t);
}
</script>
</body></html>
